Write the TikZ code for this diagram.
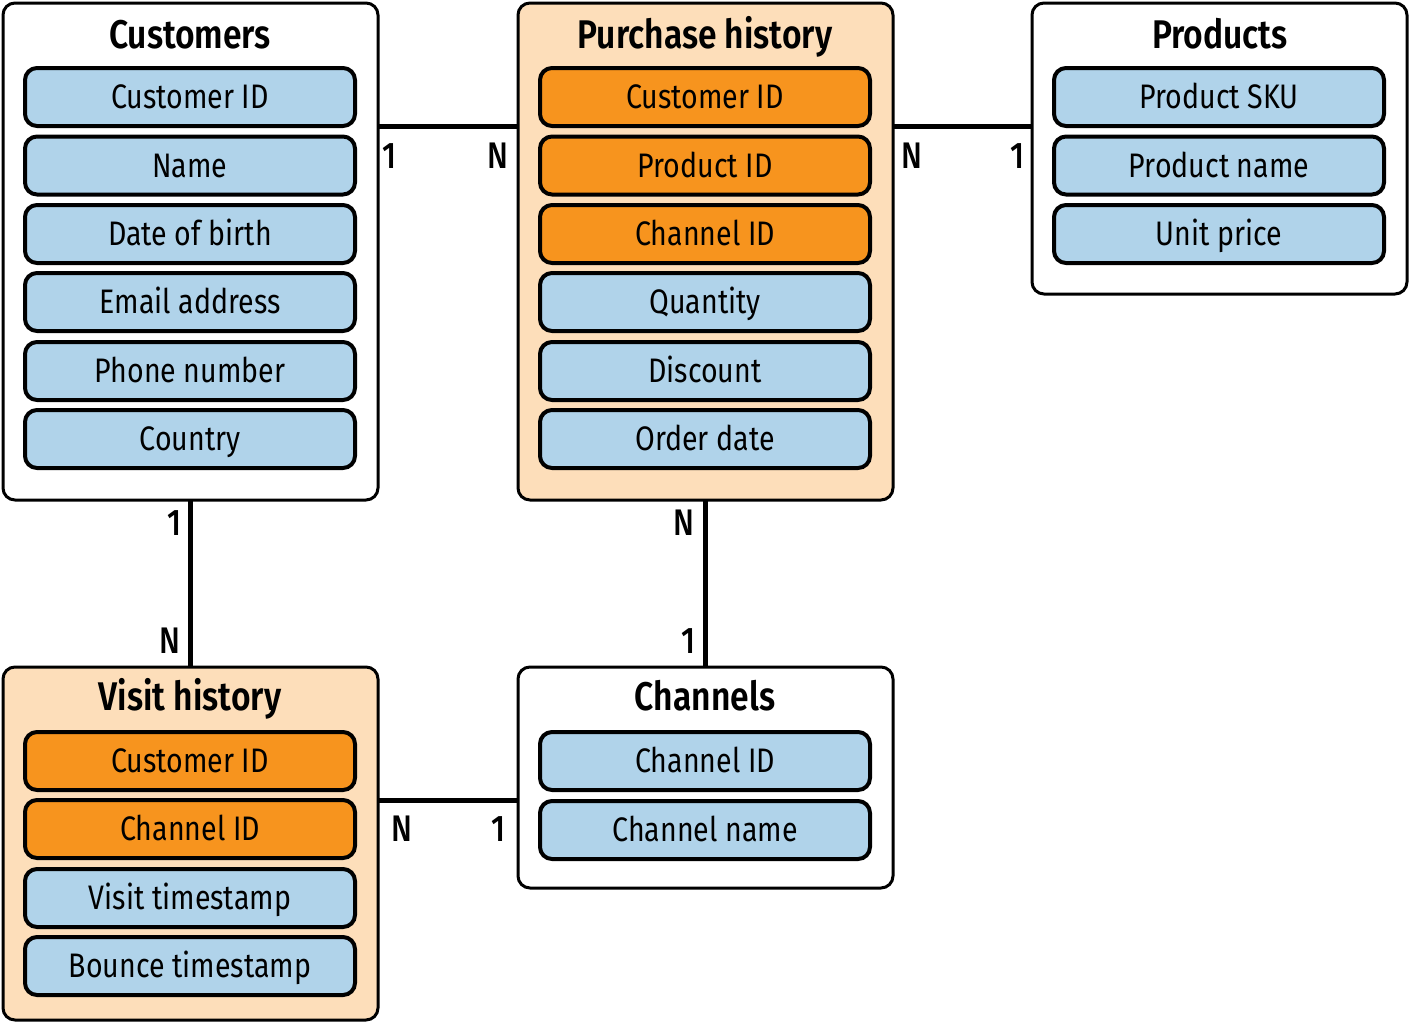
\documentclass[tikz,border=0pt]{standalone}
\usepackage{fontspec}
\setmainfont{Fira Sans}[FakeStretch=0.84]
\newfontfamily\titlefont{Fira Sans}[FakeStretch=0.84,UprightFont=* SemiBold]
\newfontfamily\cardfont{Fira Sans}[FakeStretch=0.84,UprightFont=* Medium]
\definecolor{fieldblue}{HTML}{B0D3EA}
\definecolor{keyorange}{HTML}{F7941E}
\definecolor{peach}{HTML}{FDDEBA}
\tikzset{
  x=1pt,y=-1pt,
  tablebox/.style={draw=black,line width=3pt,rounded corners=12pt},
  fieldbox/.style={draw=black,line width=4pt,rounded corners=12pt,minimum width=330pt,minimum height=58pt,inner sep=0pt,text height=23.4pt,text depth=0pt,font=\fontsize{34}{40}\selectfont},
  bluefield/.style={fieldbox,fill=fieldblue},
  keyfield/.style={fieldbox,fill=keyorange},
  ttl/.style={font=\titlefont\fontsize{40}{46}\selectfont,inner sep=0pt,text height=27.6pt,text depth=0pt},
  rel/.style={line width=5pt},
  card/.style={font=\cardfont\fontsize{37}{42}\selectfont,inner sep=0pt}
}
\begin{document}
\begin{tikzpicture}
\useasboundingbox (0,0) rectangle (1409,1023);
% tables
\draw[tablebox,fill=white] (3,3) rectangle (378,500);
\draw[tablebox,fill=peach] (518,3) rectangle (893,500);
\draw[tablebox,fill=white] (1032,3) rectangle (1407,294);
\draw[tablebox,fill=peach] (3,667) rectangle (378,1020);
\draw[tablebox,fill=white] (518,667) rectangle (893,888);
% named anchors for connectors
\coordinate (cR) at (378,126);
\coordinate (pL) at (518,126);
\coordinate (pR) at (893,126);
\coordinate (prL) at (1032,126);
\coordinate (cB) at (190,500);
\coordinate (vT) at (190,667);
\coordinate (pB) at (705,500);
\coordinate (chT) at (705,667);
\coordinate (vR) at (378,800);
\coordinate (chL) at (518,800);
% titles
\node[ttl] (t1) at (190,35) {Customers};
\node[ttl] (t2) at (705,35) {Purchase history};
\node[ttl] (t3) at (1220,35) {Products};
\node[ttl] (t4) at (190,697) {Visit history};
\node[ttl] (t5) at (705,697) {Channels};
% customers fields
\node[bluefield] (c1) at (190,97) {Customer ID};
\node[bluefield] (c2) at (190,165.5) {Name};
\node[bluefield] (c3) at (190,234) {Date of birth};
\node[bluefield] (c4) at (190,302) {Email address};
\node[bluefield] (c5) at (190,371) {Phone number};
\node[bluefield] (c6) at (190,439) {Country};
% purchase fields
\node[keyfield] (p1) at (705,97) {Customer ID};
\node[keyfield] (p2) at (705,165.5) {Product ID};
\node[keyfield] (p3) at (705,234) {Channel ID};
\node[bluefield] (p4) at (705,302) {Quantity};
\node[bluefield] (p5) at (705,371) {Discount};
\node[bluefield] (p6) at (705,439) {Order date};
% products fields
\node[bluefield] (r1) at (1219,97) {Product SKU};
\node[bluefield] (r2) at (1219,165.5) {Product name};
\node[bluefield] (r3) at (1219,234) {Unit price};
% visit fields
\node[keyfield] (v1) at (190,761) {Customer ID};
\node[keyfield] (v2) at (190,829) {Channel ID};
\node[bluefield] (v3) at (190,898) {Visit timestamp};
\node[bluefield] (v4) at (190,966) {Bounce timestamp};
% channels fields
\node[bluefield] (h1) at (705,761) {Channel ID};
\node[bluefield] (h2) at (705,830) {Channel name};
% relationships
\draw[rel] (cR) -- (pL);
\draw[rel] (pR) -- (prL);
\draw[rel] (cB) -- (vT);
\draw[rel] (pB) -- (chT);
\draw[rel] (vR) -- (chL);
% cardinalities
\node[card] (k1) at (389,156) {1};
\node[card] (k2) at (498,156) {N};
\node[card] (k3) at (912,156) {N};
\node[card] (k4) at (1017,156) {1};
\node[card] (k5) at (174,523) {1};
\node[card] (k6) at (170,641) {N};
\node[card] (k7) at (684,523) {N};
\node[card] (k8) at (688,641) {1};
\node[card] (k9) at (402,829) {N};
\node[card] (k10) at (498,829) {1};
\end{tikzpicture}
\end{document}
